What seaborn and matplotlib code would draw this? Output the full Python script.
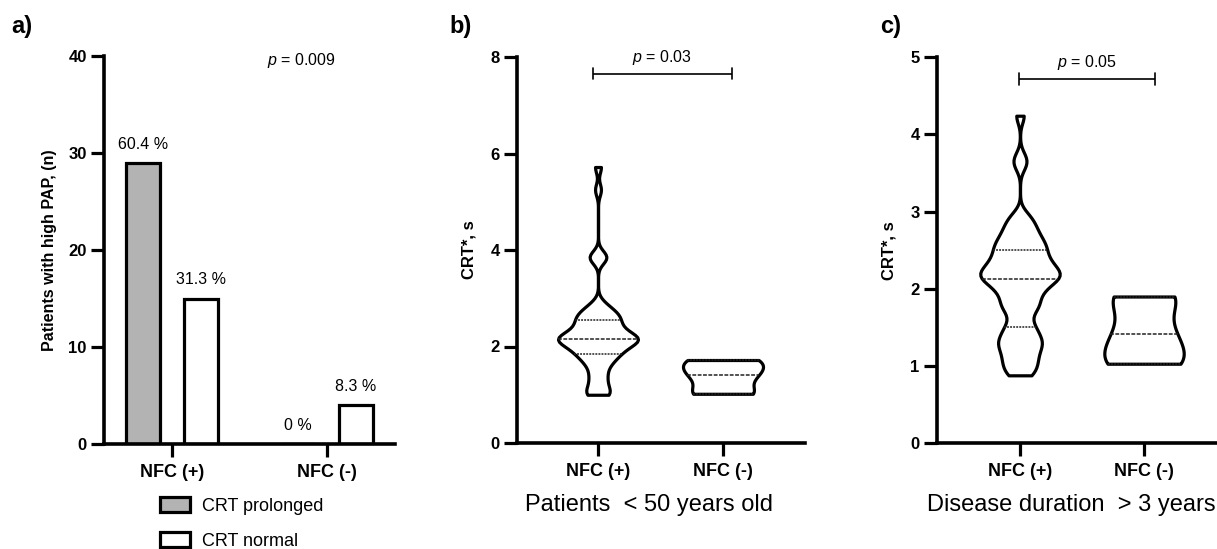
import matplotlib
matplotlib.use("Agg")
import numpy as np
import pandas as pd
import matplotlib.pyplot as plt
import seaborn as sns
from matplotlib.patches import Patch

# ---- data ---------------------------------------------------------------
nfc_groups = ["NFC (+)", "NFC (-)"]
crt_groups = ["CRT prolonged", "CRT normal"]

# panel a: number of patients with high PAP
pap_prolonged = [29, 0]
pap_normal = [15, 4]
pct_prolonged = ["60.4 %", "0 %"]
pct_normal = ["31.3 %", "8.3 %"]

# panel b: CRT* (s) in patients < 50 years old
crt_young_pos = [1.0, 1.0, 1.05, 1.15, 1.25, 1.35, 1.45, 1.55,
                 1.65, 1.7, 1.75, 1.8,
                 1.85, 1.9, 1.9, 1.95, 2.0, 2.0, 2.05,
                 2.1, 2.1, 2.1, 2.15, 2.15, 2.15, 2.2, 2.2, 2.2, 2.25, 2.25,
                 2.3, 2.35, 2.4, 2.4, 2.45, 2.5, 2.55, 2.6,
                 2.6, 2.65, 2.7, 2.75,
                 2.8, 2.9,
                 3.8, 3.85, 3.9,
                 5.25, 5.72]
crt_young_neg = [1.02, 1.02, 1.02, 1.38, 1.41, 1.5, 1.72, 1.72, 1.72]

# panel c: CRT* (s) with disease duration > 3 years
crt_long_pos = [0.88, 0.9, 1.0, 1.0, 1.1, 1.1, 1.2, 1.2, 1.3, 1.3, 1.3, 1.4, 1.4,
                1.5, 1.5, 1.6, 1.7, 1.75, 1.8, 1.8, 1.9, 1.9, 2.0, 2.0, 2.0,
                2.1, 2.1, 2.1, 2.15, 2.15, 2.2, 2.2, 2.2, 2.2,
                2.3, 2.3, 2.3, 2.3, 2.4, 2.4, 2.4, 2.5, 2.5, 2.5,
                2.6, 2.6, 2.6, 2.7, 2.7, 2.8, 2.8, 2.9, 2.95,
                3.6, 3.7, 4.24]
crt_long_neg = [1.03, 1.03, 1.03, 1.25, 1.41, 1.5, 1.9, 1.9, 1.9]

p_values = ["0.009", "0.03", "0.05"]
panel_tags = ["a)", "b)", "c)"]
xlabels = ["Patients  < 50 years old", "Disease duration  > 3 years"]

# ---- style --------------------------------------------------------------
sns.set_style("ticks")
plt.rcParams.update({
    "font.family": ["Liberation Sans", "DejaVu Sans"],
    "mathtext.fontset": "custom",
    "mathtext.rm": "Liberation Sans",
    "mathtext.it": "Liberation Sans:italic",
    "text.color": "black",
    "axes.labelcolor": "black",
    "axes.edgecolor": "black",
    "xtick.color": "black",
    "ytick.color": "black",
})

GREY = "#b3b3b3"
LW = 2.3
SPINE_LW = 2.6

fig = plt.figure(figsize=(12.17, 5.49), dpi=100)
W, H = 1217.0, 549.0


def px_axes(left, right, top, bottom):
    return fig.add_axes([left / W, 1 - bottom / H, (right - left) / W, (bottom - top) / H])


ax_a = px_axes(104, 395, 56, 444)
ax_b = px_axes(517, 805, 57, 443)
ax_c = px_axes(937, 1226, 57, 443.3)


def style_axis(ax):
    sns.despine(ax=ax)
    for side in ("left", "bottom"):
        ax.spines[side].set_linewidth(SPINE_LW)
        ax.spines[side].set_capstyle("projecting")
        ax.spines[side].set_color("black")
    ax.tick_params(axis="both", length=9.5, width=2.3, color="black", labelcolor="black")
    ax.tick_params(axis="y", pad=3, labelsize=12)
    ax.tick_params(axis="x", pad=5, labelsize=13)
    for lab in ax.get_xticklabels() + ax.get_yticklabels():
        lab.set_fontweight("bold")


# ---- panel a: grouped bars ------------------------------------------------
bars = pd.DataFrame({
    "nfc": nfc_groups * 2,
    "crt": [crt_groups[0]] * 2 + [crt_groups[1]] * 2,
    "n": pap_prolonged + pap_normal,
})
sns.barplot(data=bars, x="nfc", y="n", hue="crt", order=nfc_groups,
            hue_order=crt_groups, palette={crt_groups[0]: GREY, crt_groups[1]: "white"},
            saturation=1, width=0.75, gap=0.42, edgecolor="black", linewidth=LW,
            legend=False, ax=ax_a)
for container, labels in zip(ax_a.containers, [pct_prolonged, pct_normal]):
    ax_a.bar_label(container, labels=labels, padding=8, fontsize=11.5, color="black")

ax_a.set_xlim(-0.439, 1.439)
ax_a.set_ylim(0, 40)
ax_a.set_yticks([0, 10, 20, 30, 40])
ax_a.set_xticks([0, 1], nfc_groups)
ax_a.set_xlabel("")
ax_a.set_ylabel("Patients with high PAP, (n)", fontsize=11.5, fontweight="bold", labelpad=8)
style_axis(ax_a)
ax_a.text(0.832, 39.5, r"$p$ = " + p_values[0], ha="center", va="center", fontsize=11.5)

handles = [Patch(facecolor=GREY, edgecolor="black", linewidth=LW),
           Patch(facecolor="white", edgecolor="black", linewidth=LW)]
ax_a.legend(handles, crt_groups, loc="upper left", bbox_to_anchor=(160 / W, 1 - 497 / H),
            bbox_transform=fig.transFigure, frameon=False, borderpad=0, borderaxespad=0,
            handlelength=1.65, handleheight=0.9, handletextpad=0.7, labelspacing=0.95,
            fontsize=13)


# ---- panels b and c: violins --------------------------------------------
def draw_violins(ax, pos_vals, neg_vals, bw_pos, bw_neg):
    for group, vals, bw in ((nfc_groups[0], pos_vals, bw_pos), (nfc_groups[1], neg_vals, bw_neg)):
        df = pd.DataFrame({"group": [group] * len(vals), "crt": vals})
        sns.violinplot(data=df, x="group", y="crt", order=nfc_groups, ax=ax,
                       cut=0, inner="quart", bw_adjust=bw, density_norm="width",
                       width=0.64, color="white", linecolor="black", linewidth=LW,
                       saturation=1, inner_kws=dict(linewidth=1.1, color="#222222"))


def bracket(ax, x0, x1, y, cap, text, ty):
    ax.plot([x0, x1], [y, y], color="black", lw=1.2, solid_capstyle="butt")
    for xx in (x0, x1):
        ax.plot([xx, xx], [y - cap, y + cap], color="black", lw=1.2)
    ax.text((x0 + x1) / 2, ty, r"$p$ = " + text, ha="center", va="center", fontsize=11.5)


draw_violins(ax_b, crt_young_pos, crt_young_neg, 0.3, 0.95)
ax_b.set_xlim(-0.648, 1.656)
ax_b.set_ylim(0, 8)
ax_b.set_yticks([0, 2, 4, 6, 8])
ax_b.set_xticks([0, 1], nfc_groups)
ax_b.set_xlabel("")
ax_b.set_ylabel("CRT*, s", fontsize=12, fontweight="bold", labelpad=10)
style_axis(ax_b)
bracket(ax_b, -0.04, 1.07, 7.65, 0.115, p_values[1], 7.99)
ax_b.text(-0.584, -0.16, xlabels[0], transform=ax_b.get_xaxis_transform(),
          ha="left", va="center", fontsize=17)

draw_violins(ax_c, crt_long_pos, crt_long_neg, 0.31, 0.9)
ax_c.set_xlim(-0.669, 1.661)
ax_c.set_ylim(0, 5)
ax_c.set_yticks([0, 1, 2, 3, 4, 5])
ax_c.set_xticks([0, 1], nfc_groups)
ax_c.set_xlabel("")
ax_c.set_ylabel("CRT*, s", fontsize=12, fontweight="bold", labelpad=10)
style_axis(ax_c)
bracket(ax_c, -0.005, 1.085, 4.71, 0.078, p_values[2], 4.93)
ax_c.text(-0.75, -0.16, xlabels[1], transform=ax_c.get_xaxis_transform(),
          ha="left", va="center", fontsize=17)

# ---- panel tags -----------------------------------------------------------
for tag, x in zip(panel_tags, [22, 461, 891]):
    fig.text(x / W, 1 - 27 / H, tag, ha="center", va="center", fontsize=17, fontweight="bold")

fig.savefig("out.png", dpi=100)
